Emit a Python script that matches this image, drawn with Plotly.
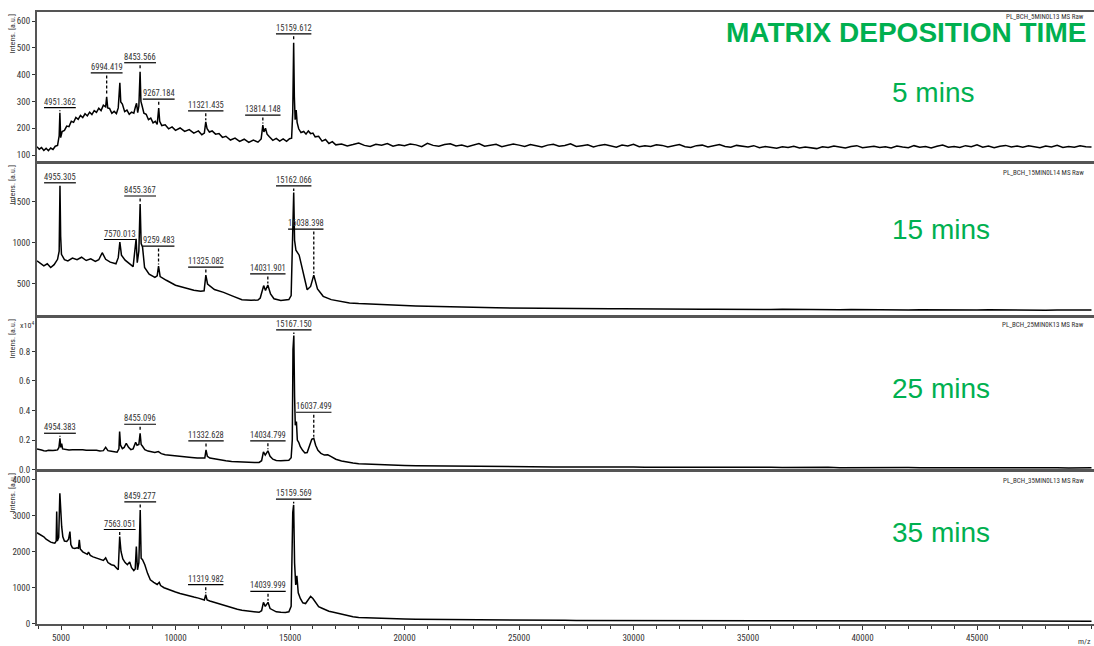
import plotly.graph_objects as go

# ---------------- DATA ----------------
# Each spectrum: main region as (m/z, intensity) pairs, then a tail on a regular m/z grid.
p1_main = [(3952,131),(4050,122),(4150,128),(4250,117),(4350,125),(4450,116),(4550,126),(4650,121),
           (4750,133),(4850,136),(4920,172),(4951.362,258),(4985,165),(5050,188),(5150,192),(5250,208),
           (5350,206),(5450,226),(5550,222),(5650,240),(5750,233),(5850,248),(5950,240),(6050,254),
           (6150,246),(6250,260),(6350,251),(6450,266),(6550,259),(6650,275),(6750,266),(6850,286),
           (6950,280),(6994.419,317),(7040,276),(7120,274),(7220,256),(7320,263),(7420,255),(7500,276),
           (7570,370),(7610,298),(7680,290),(7780,262),(7880,268),(7980,252),(8080,260),(8180,256),
           (8260,283),(8300,293),(8350,258),(8400,282),(8453.566,411),(8490,300),(8540,284),(8620,256),
           (8720,252),(8820,232),(8920,238),(9020,220),(9120,226),(9200,214),(9267.184,275),(9310,226),
           (9400,210),(9550,213),(9700,198),(9850,205),(10000,192),(10200,201),(10400,188),(10600,195),
           (10800,182),(11000,190),(11150,176),(11260,182),(11321.435,224),(11380,198),(11480,186),
           (11600,190),(11750,178),(11900,180),(12050,166),(12200,170),(12400,156),(12600,163),(12800,151),
           (13000,159),(13200,147),(13400,156),(13600,148),(13740,160),(13814.148,212),(13860,186),
           (13930,200),(14000,178),(14100,168),(14250,155),(14400,162),(14550,152),(14700,160),(14850,151),
           (14980,161),(15070,163),(15120,260),(15159.612,519),(15190,318),(15225,232),(15270,268),
           (15310,222),(15380,198),(15480,184),(15600,188),(15700,178),(15800,190),(15900,180),(16000,182),
           (16100,168),(16250,170),(16400,152),(16550,158),(16700,143),(16850,150),(17000,138)]
p1_tail_mz = list(range(17250, 50001, 250))
p1_tail = [141,134,139,145,136,132,140,137,143,133,138,
           135,141,138,131,144,136,133,139,142,134,137,131,
           138,143,133,136,140,131,135,141,137,132,139,134,
           130,137,140,133,136,142,132,135,138,130,136,139,
           133,129,137,134,140,131,135,132,138,136,130,134,
           139,131,128,135,137,130,134,139,132,129,136,133,
           130,135,127,132,129,125,131,128,133,126,130,127,
           124,131,128,134,129,126,132,135,127,130,133,128,
           131,126,134,130,127,135,129,132,126,133,137,129,
           132,128,135,131,138,129,134,127,133,136,130,134,
           129,135,131,127,134,130,136,128,132,129,135,131,
           130]

p2_main = [(3952,780),(4100,755),(4250,720),(4400,745),(4550,700),(4700,735),(4850,800),(4920,900),
           (4955.305,1693),(4985,1080),(5020,860),(5150,795),(5300,780),(5500,815),(5700,795),(5900,825),
           (6100,785),(6300,805),(6500,775),(6650,795),(6800,880),(6950,800),(7150,765),(7400,745),
           (7500,820),(7570.013,1010),(7640,850),(7800,790),(7950,760),(8150,710),(8280,1050),(8330,760),
           (8400,900),(8455.367,1472),(8500,990),(8560,950),(8650,700),(8850,620),(9100,580),(9200,600),
           (9259.483,717),(9330,590),(9600,545),(10000,485),(10400,455),(10800,425),(11100,412),
           (11250,418),(11325.082,608),(11400,500),(11700,432),(12100,398),(12500,352),(12900,308),
           (13300,302),(13600,305),(13700,330),(13850,480),(13930,420),(14031.901,488),(14150,380),
           (14300,320),(14600,300),(14950,310),(15050,360),(15110,1100),(15162.066,1612),(15200,1030),
           (15260,910),(15400,850),(15550,660),(15750,430),(15900,470),(16038.398,608),(16200,440),
           (16450,350),(16800,310),(17200,290),(17600,270)]
p2_tail_mz = list(range(18000, 50001, 500))
p2_tail = [262,255,248,242,238,232,229,224,222,218,
           216,213,211,209,207,208,204,205,202,203,
           200,201,198,199,197,198,195,196,194,195,
           193,194,192,190,193,191,189,192,190,188,
           191,189,187,190,188,186,189,187,185,188,
           186,184,187,185,183,186,184,182,185,183,
           181,184,182,180,183]

# panel 3 intensities in units of 10^4
p3_main = [(3952,0.140),(4050,0.138),(4150,0.132),(4250,0.128),(4350,0.126),(4450,0.130),(4550,0.127),
           (4650,0.129),(4750,0.131),(4850,0.133),(4910,0.150),(4954.383,0.212),(4990,0.150),(5030,0.175),
           (5070,0.140),(5200,0.136),(5350,0.133),(5500,0.134),(5650,0.135),(5800,0.133),(5950,0.134),
           (6100,0.131),(6250,0.132),(6400,0.128),(6550,0.130),(6700,0.126),(6850,0.128),(6950,0.150),
           (7050,0.128),(7200,0.124),(7350,0.122),(7450,0.118),(7530,0.140),(7560,0.257),(7600,0.165),
           (7680,0.142),(7760,0.150),(7850,0.178),(7950,0.150),(8050,0.135),(8150,0.140),(8260,0.185),
           (8320,0.165),(8400,0.170),(8455.096,0.246),(8500,0.170),(8560,0.158),(8660,0.135),(8800,0.125),
           (8950,0.118),(9100,0.115),(9250,0.122),(9380,0.108),(9550,0.100),(9750,0.096),(9950,0.092),
           (10200,0.088),(10450,0.085),(10700,0.082),(10950,0.078),(11200,0.076),(11280,0.078),
           (11332.628,0.133),(11390,0.090),(11500,0.078),(11700,0.072),(11950,0.066),(12200,0.060),
           (12450,0.055),(12700,0.052),(12950,0.050),(13200,0.048),(13450,0.047),(13650,0.048),
           (13760,0.060),(13840,0.120),(13920,0.098),(14034.799,0.127),(14130,0.090),(14250,0.070),
           (14400,0.062),(14600,0.060),(14800,0.060),(14950,0.063),(15050,0.080),(15100,0.200),
           (15130,0.813),(15167.15,0.908),(15200,0.495),(15230,0.300),(15280,0.325),(15320,0.200),
           (15380,0.185),(15450,0.155),(15550,0.130),(15650,0.112),(15750,0.115),(15850,0.160),
           (15950,0.205),(16037.499,0.212),(16120,0.165),(16220,0.130),(16350,0.110),(16500,0.098),
           (16650,0.100),(16800,0.088),(17000,0.070),(17250,0.058),(17500,0.050),(17750,0.045)]
p3_tail_mz = list(range(18000, 50001, 500))
p3_tail = [0.040,0.036,0.033,0.030,0.028,0.026,0.025,0.023,0.022,0.021,
           0.021,0.020,0.020,0.019,0.019,0.018,0.019,0.018,0.018,0.017,
           0.018,0.017,0.017,0.016,0.017,0.016,0.017,0.016,0.016,0.015,
           0.016,0.015,0.016,0.015,0.015,0.014,0.015,0.014,0.015,0.014,
           0.014,0.015,0.013,0.014,0.015,0.013,0.014,0.013,0.014,0.013,
           0.014,0.013,0.012,0.014,0.013,0.012,0.013,0.012,0.013,0.012,
           0.012,0.013,0.011,0.012,0.012]

p4_main = [(3952,2530),(4050,2500),(4150,2470),(4250,2420),(4350,2350),(4450,2300),(4550,2270),
           (4650,2250),(4730,2240),(4790,2300),(4812,3120),(4840,2300),(4900,2400),(4950,3630),
           (4990,2890),(5030,2700),(5080,2420),(5150,2300),(5250,2290),(5330,2350),(5390,2565),
           (5430,2200),(5500,2110),(5600,2090),(5700,2110),(5760,2100),(5800,2333),(5840,2080),
           (5950,2000),(6050,1960),(6150,1930),(6200,1990),(6280,1900),(6400,1860),(6550,1830),
           (6700,1800),(6850,1760),(6950,1830),(7050,1700),(7200,1640),(7320,1620),(7430,1540),
           (7500,1500),(7563.051,2426),(7620,2010),(7700,1800),(7800,1700),(7900,1640),(8000,1720),
           (8080,1560),(8180,1480),(8240,1520),(8290,2148),(8340,1500),(8400,1700),(8459.277,3167),
           (8500,1824),(8560,1780),(8660,1640),(8780,1400),(8900,1220),(9050,1150),(9200,1090),
           (9290,1150),(9350,1060),(9500,1000),(9650,960),(9800,920),(10000,880),(10200,840),
           (10400,800),(10600,770),(10800,740),(11000,710),(11150,690),(11260,660),(11319.982,806),
           (11380,660),(11500,630),(11700,590),(11900,540),(12100,500),(12300,460),(12500,430),
           (12700,400),(12900,370),(13100,350),(13300,335),(13500,320),(13650,315),(13760,360),
           (13840,593),(13920,481),(14039.999,593),(14130,420),(14250,370),(14400,330),(14600,315),
           (14800,310),(14950,330),(15050,481),(15120,3100),(15159.569,3306),(15200,1685),(15250,1080),
           (15300,1333),(15360,860),(15450,700),(15560,580),(15680,560),(15800,680),(15900,759),
           (16000,700),(16100,600),(16250,470),(16400,430),(16550,380),(16700,345),(16900,320),
           (17100,290),(17300,250),(17500,220),(17750,195)]
p4_tail_mz = list(range(18000, 50001, 500))
p4_tail = [170,155,145,135,128,122,118,114,110,107,
           105,102,100,98,97,95,94,92,91,90,
           89,88,87,86,85,85,84,83,82,82,
           81,80,80,79,78,79,77,78,76,77,
           75,76,74,75,76,73,74,75,72,74,
           73,72,74,71,73,72,70,72,71,70,
           71,69,70,71,69]

# peak labels (m/z of labelled peak and its text)
p1_labels = ["4951.362","6994.419","8453.566","9267.184","11321.435","13814.148","15159.612"]
p2_labels = ["4955.305","7570.013","8455.367","9259.483","11325.082","14031.901","15162.066","16038.398"]
p3_labels = ["4954.383","8455.096","11332.628","14034.799","15167.150","16037.499"]
p4_labels = ["7563.051","8459.277","11319.982","14039.999","15159.569"]

sample_names = ["PL_BCH_5MIN0L13 MS Raw","PL_BCH_15MIN0L14 MS Raw",
                "PL_BCH_25MIN0K13 MS Raw","PL_BCH_35MIN0L13 MS Raw"]
time_labels = ["5 mins","15 mins","25 mins","35 mins"]
x_ticks = [5000,10000,15000,20000,25000,30000,35000,40000,45000]

# ---------------- LAYOUT / STYLE ----------------
W, H = 1094, 646
ML, MR, MT, MB = 37, 0, 12, 22
PW, PH = W - ML - MR, H - MT - MB
NARROW = "Liberation Sans Narrow, Arial Narrow, Roboto Condensed, DejaVu Sans Condensed, sans-serif"
GREEN = "#00B050"

panel_px = [(12, 162), (163, 316), (317, 470), (471, 624)]
domains = [((H - MB - b) / PH, (H - MB - t) / PH) for t, b in panel_px]
y_ranges = [[74, 634], [111, 1970], [-0.003, 1.033], [-10, 4250]]
x_range = [3952, 50109]

# label layout: gap (px) between underline and peak top, horizontal shift (px)
label_gaps = [[5, 24, 9, 9, 11, 10, 9],
              [3, 2.5, 8, 20, 8, 11, 6.5, 46],
              [5, 9, 9, 10, 5.5, 26],
              [7, 8, 10, 11, 5.7]]
label_shift = [[0]*7, [0]*7 + [-8], [0]*6, [0]*5]
name_y_px = [17, 173, 325, 481]
time_y_px = [93, 230, 388, 532]

panels = [(p1_main, p1_tail_mz, p1_tail, p1_labels),
          (p2_main, p2_tail_mz, p2_tail, p2_labels),
          (p3_main, p3_tail_mz, p3_tail, p3_labels),
          (p4_main, p4_tail_mz, p4_tail, p4_labels)]

fig = go.Figure()
shapes, annotations = [], []
px_per_da = PW / (x_range[1] - x_range[0])

for i, (main, tmz, tint, labels) in enumerate(panels):
    n = i + 1
    xa = "x" if n == 1 else f"x{n}"
    ya = "y" if n == 1 else f"y{n}"
    mz = [p[0] for p in main] + list(tmz)
    inten = [p[1] for p in main] + list(tint)
    fig.add_trace(go.Scatter(x=mz, y=inten, mode="lines", xaxis=xa, yaxis=ya,
                             line=dict(color="black", width=1.5), showlegend=False,
                             hoverinfo="skip"))
    t_px, b_px = panel_px[i]
    upp = (y_ranges[i][1] - y_ranges[i][0]) / (b_px - t_px)   # data units per pixel
    main_mz = [p[0] for p in main]
    for j, lab in enumerate(labels):
        pm = float(lab)
        k = min(range(len(main_mz)), key=lambda q: abs(main_mz[q] - pm))
        peak_x, peak_y = main_mz[k], main[k][1]
        gap = label_gaps[i][j]
        uy = peak_y + gap * upp
        cx = peak_x + label_shift[i][j] / px_per_da
        hw = (len(lab) * 3.6 + 3) / 2 / px_per_da
        shapes.append(dict(type="line", xref=xa, yref=ya, x0=cx - hw, x1=cx + hw, y0=uy, y1=uy,
                           line=dict(color="black", width=1.2)))
        if gap > 4:
            shapes.append(dict(type="line", xref=xa, yref=ya, x0=peak_x, x1=peak_x,
                               y0=uy - 2.5 * upp, y1=peak_y + 1.5 * upp,
                               line=dict(color="black", width=1.3, dash="3px,2px")))
        annotations.append(dict(x=cx, y=uy, xref=xa, yref=ya, text=lab, showarrow=False,
                                xanchor="center", yanchor="bottom", yshift=-1,
                                font=dict(family=NARROW, size=8.5, color="#333")))
    # sample name (top right of the panel)
    annotations.append(dict(x=1, xref="paper", xanchor="right", xshift=-8,
                            y=(H - MB - name_y_px[i]) / PH, yref="paper", yanchor="middle",
                            text=sample_names[i], showarrow=False,
                            font=dict(family=NARROW, size=7, color="#333")))
    # y-axis title
    annotations.append(dict(x=(12 - ML) / PW, xref="paper", xanchor="center",
                            y=domains[i][1], yref="paper", yanchor="top", yshift=-1,
                            text="Intens. [a.u.]", textangle=-90, showarrow=False,
                            font=dict(family=NARROW, size=8, color="#333")))
    # green time label
    annotations.append(dict(x=(890 - ML) / PW, xref="paper", xanchor="left",
                            y=(H - MB - time_y_px[i]) / PH, yref="paper", yanchor="middle",
                            text=time_labels[i], showarrow=False,
                            font=dict(family="Liberation Sans, Arial, sans-serif", size=28, color=GREEN)))

    bottom = (n == 4)
    fig.layout[f"xaxis{'' if n == 1 else n}"] = dict(
        domain=[0, 1], anchor=ya, range=x_range, matches=None if n == 1 else "x",
        showline=True, mirror=True, linecolor="#555", linewidth=2,
        showgrid=False, zeroline=False,
        showticklabels=bottom, ticks="outside" if bottom else "",
        tickmode="array", tickvals=x_ticks, ticktext=[str(v) for v in x_ticks],
        ticklen=4, tickcolor="#333",
        minor=dict(dtick=1000, ticks="outside", ticklen=3, tickcolor="#333") if bottom else None,
        tickfont=dict(family=NARROW, size=9, color="#333"))
    yfmt = ".1f" if n == 3 else None
    ytv = [[100, 200, 300, 400, 500, 600], [500, 1000, 1500],
           [0.0, 0.2, 0.4, 0.6, 0.8], [0, 1000, 2000, 3000, 4000]][i]
    fig.layout[f"yaxis{'' if n == 1 else n}"] = dict(
        domain=list(domains[i]), anchor=xa, range=y_ranges[i],
        showline=True, mirror=False, linecolor="#555", linewidth=2,
        showgrid=False, zeroline=False, ticks="outside", ticklen=3, tickcolor="#333",
        tickvals=ytv, tickformat=yfmt,
        tickfont=dict(family=NARROW, size=9, color="#333"))

# title and other texts
annotations.append(dict(x=(906 - ML) / PW, xref="paper", xanchor="center",
                        y=(H - MB - 33) / PH, yref="paper", yanchor="middle",
                        text="<b>MATRIX DEPOSITION TIME</b>", showarrow=False,
                        font=dict(family="Liberation Sans, Arial, sans-serif", size=28, color=GREEN)))
annotations.append(dict(x=0, xref="paper", xanchor="right", xshift=-1,
                        y=domains[2][1], yref="paper", yanchor="top", yshift=-1,
                        text="x10<sup>4</sup>", showarrow=False,
                        font=dict(family=NARROW, size=8, color="#333")))
annotations.append(dict(x=1, xref="paper", xanchor="right", xshift=-1,
                        y=0, yref="paper", yanchor="top", yshift=-11,
                        text="m/z", showarrow=False,
                        font=dict(family=NARROW, size=8, color="#333")))

fig.update_layout(width=W, height=H, margin=dict(l=ML, r=MR, t=MT, b=MB),
                  paper_bgcolor="white", plot_bgcolor="white",
                  shapes=shapes, annotations=annotations, showlegend=False)

fig.write_html("out.html")
